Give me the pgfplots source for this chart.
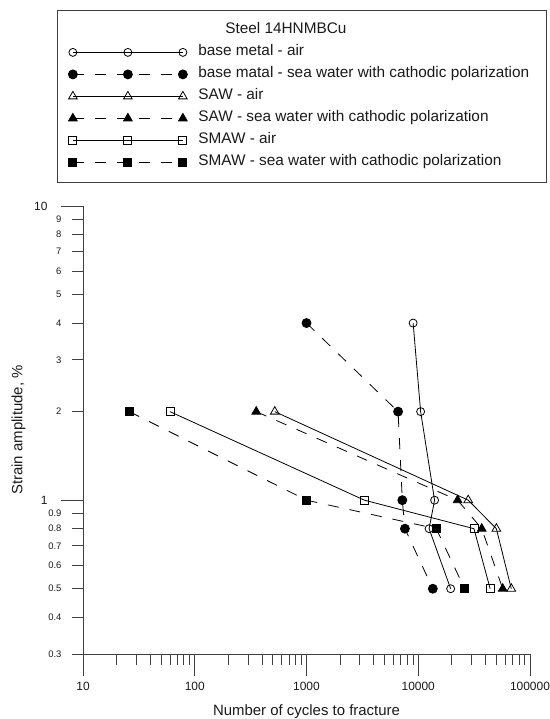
\documentclass[border=0pt]{standalone}
\usepackage{fontspec}
\setmainfont{Liberation Sans}
\usepackage{pgfplots}
\pgfplotsset{compat=1.18}
\definecolor{axgray}{HTML}{404040}
\definecolor{txt}{HTML}{1A1A1A}
\begin{document}
\begin{tikzpicture}
\path[use as bounding box] (0bp,0bp) rectangle (550bp,719bp);
\begin{axis}[
    at={(83bp,65bp)}, anchor=south west,
    scale only axis, width=447bp, height=448bp,
    xmode=log, ymode=log,
    xmin=10, xmax=100000, ymin=0.3, ymax=10,
    clip=false,
    axis x line*=bottom, axis y line*=left,
    axis line style={axgray, line width=0.9bp},
    tick style={axgray, line width=0.9bp},
    tick align=outside,
    tickwidth=11bp, subtickwidth=11bp,
    xtick={10,100,1000,10000,100000},
    xticklabels={10,100,1000,10000,100000},
    minor xtick={20,30,40,50,60,70,80,90,200,300,400,500,600,700,800,900,
        2000,3000,4000,5000,6000,7000,8000,9000,20000,30000,40000,50000,60000,70000,80000,90000},
    ytick={0.3,0.4,0.5,0.6,0.7,0.8,0.9,2,3,4,5,6,7,8,9},
    yticklabels={0.3,0.4,0.5,0.6,0.7,0.8,0.9,2,3,4,5,6,7,8,9},
    extra y ticks={1,10},
    extra y tick labels={1,10},
    extra y tick style={yticklabel style={font=\fontsize{12}{12}\selectfont, xshift=-14bp}},
    yticklabel style={font=\fontsize{9.5}{9.5}\selectfont, text=txt, xshift=-7bp},
    xticklabel style={font=\fontsize{12}{12}\selectfont, text=txt, yshift=-14bp},
    /pgf/number format/assume math mode=true,
    xlabel={Number of cycles to fracture},
    ylabel={Strain amplitude, \%},
    every axis x label/.style={at={(axis description cs:0.5,-0.1295)}, anchor=center,
        font=\fontsize{15}{15}\selectfont, text=txt},
    every axis y label/.style={at={(axis description cs:-0.144,0.5)}, anchor=center,
        rotate=90, font=\fontsize{15}{15}\selectfont, text=txt},
    legend cell align=left,
    legend image code/.code={
        \draw[mark repeat=1,mark phase=1,#1] plot coordinates {(0bp,0bp) (55bp,0bp) (110bp,0bp)};
    },
    legend style={at={(-0.0582,1.4375)}, anchor=north west,
        draw=axgray, line width=0.8bp, text=txt,
        font=\fontsize{15.4}{15.4}\selectfont,
        inner xsep=11bp, inner ysep=13bp, row sep=8bp, column sep=11bp,
        nodes={inner sep=0pt, text height=10.5bp, text depth=3.5bp}},
]
\addlegendimage{empty legend}
\addlegendentry{\hspace*{27bp}Steel 14HNMBCu}

% tick lines, so that they show whatever the tick machinery does
\pgfplotsinvokeforeach{10,100,1000,10000,100000}{
    \draw[axgray, line width=0.9bp] (axis cs:#1,0.3) -- ++(0bp,-22bp);}
\pgfplotsinvokeforeach{20,30,40,50,60,70,80,90,200,300,400,500,600,700,800,900,
    2000,3000,4000,5000,6000,7000,8000,9000,20000,30000,40000,50000,60000,70000,80000,90000}{
    \draw[axgray, line width=0.9bp] (axis cs:#1,0.3) -- ++(0bp,-11bp);}
\pgfplotsinvokeforeach{1,10}{
    \draw[axgray, line width=0.9bp] (axis cs:10,#1) -- ++(-22bp,0bp);}
\pgfplotsinvokeforeach{0.3,0.4,0.5,0.6,0.7,0.8,0.9,2,3,4,5,6,7,8,9}{
    \draw[axgray, line width=0.9bp] (axis cs:10,#1) -- ++(-11bp,0bp);}

\addplot[black, line width=0.8bp, mark=o, mark size=4bp, mark options={fill=white, solid}]
coordinates {(9000,4) (10500,2) (14000,1) (12500,0.8) (19500,0.5)};
\addlegendentry{base metal - air}

\addplot[black, line width=0.8bp, dash pattern=on 11bp off 11bp,
    mark=*, mark size=4.5bp, mark options={solid}]
coordinates {(1000,4) (6600,2) (7200,1) (7600,0.8) (13500,0.5)};
\addlegendentry{base matal - sea water with cathodic polarization\hspace*{6bp}}

\addplot[black, line width=0.8bp, mark=triangle, mark size=5bp, mark options={fill=white, solid}]
coordinates {(520,2) (28000,1) (50000,0.8) (68000,0.5)};
\addlegendentry{SAW - air}

\addplot[black, line width=0.8bp, dash pattern=on 11bp off 11bp,
    mark=triangle*, mark size=5bp, mark options={solid}]
coordinates {(355,2) (22500,1) (37000,0.8) (57000,0.5)};
\addlegendentry{SAW - sea water with cathodic polarization}

\addplot[black, line width=0.8bp, mark=square, mark size=4bp, mark options={fill=white, solid}]
coordinates {(60,2) (3300,1) (31500,0.8) (44000,0.5)};
\addlegendentry{SMAW - air}

\addplot[black, line width=0.8bp, dash pattern=on 11bp off 11bp,
    mark=square*, mark size=4bp, mark options={solid}]
coordinates {(26,2) (1000,1) (14500,0.8) (26000,0.5)};
\addlegendentry{SMAW - sea water with cathodic polarization}
\end{axis}
\end{tikzpicture}
\end{document}
